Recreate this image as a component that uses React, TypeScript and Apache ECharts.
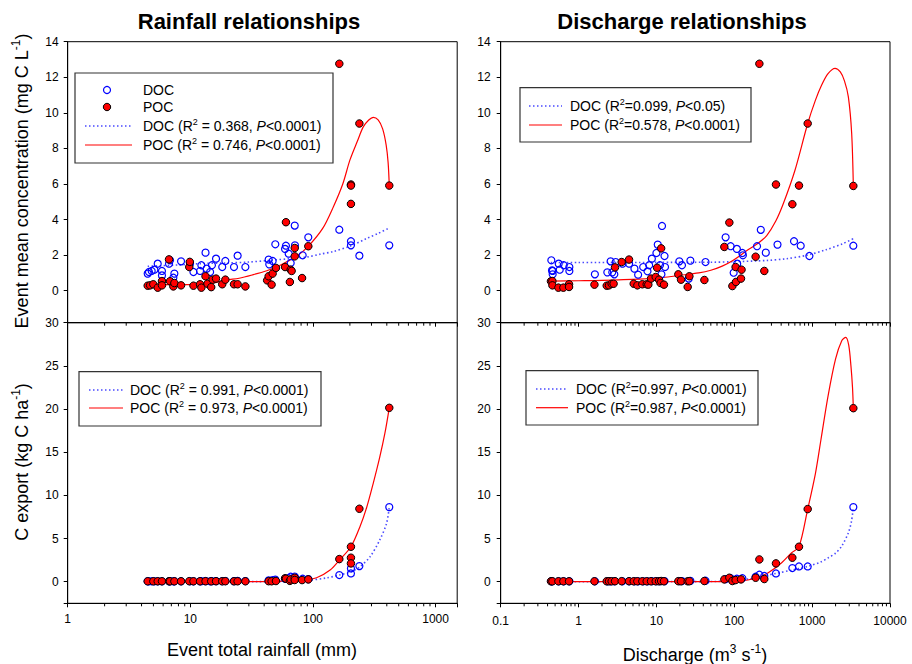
import React, { useEffect, useRef } from 'react';
import * as echarts from 'echarts';

const FONT = '"Liberation Sans", Arial, Helvetica, sans-serif';

// ---------- Data: top-left (rainfall vs concentration) ----------
const rainDocConc = [[4.49,0.96],[4.6,1.05],[4.84,1.11],[5.09,1.18],[5.42,1.52],[5.87,1.11],[5.87,0.86],[6.7,1.52],[6.83,1.71],[7.27,0.73],[7.41,0.96],[8.4,1.65],[9.94,1.52],[10.6,1.05],[12.0,1.11],[12.3,1.43],[13.3,2.14],[13.6,1.24],[14.5,1.05],[15.0,1.43],[16.2,1.8],[18.2,1.33],[19.3,1.67],[22.7,1.33],[24.3,1.97],[28.1,1.33],[43.5,1.75],[44.0,1.48],[46.9,1.67],[49.3,2.61],[59.2,2.35],[60.2,2.53],[63.4,2.08],[65.8,1.56],[71.0,3.66],[71.3,2.55],[82.4,1.99],[91.6,3.0],[164,3.43],[204,2.78],[204,2.55],[239,1.97],[419,2.55]];
const rainPocConc = [[4.49,0.28],[4.7,0.3],[4.99,0.36],[5.42,0.17],[5.87,0.54],[5.87,0.3],[6.7,1.76],[6.83,0.53],[7.27,0.24],[7.41,0.43],[8.4,0.3],[9.8,1.33],[9.9,1.62],[10.6,0.28],[12.0,0.36],[12.3,0.17],[13.3,0.81],[13.8,0.39],[14.8,0.2],[15.2,0.62],[16.2,0.68],[18.2,0.36],[19.3,0.62],[22.7,0.36],[24.3,0.36],[28.1,0.24],[42.3,0.58],[43.5,0.81],[46.0,0.34],[46.9,0.96],[49.9,1.28],[59.2,1.33],[60.2,3.85],[64.8,0.49],[65.8,1.18],[67,1.11],[71.0,1.93],[71.0,2.4],[81.5,0.71],[91.6,2.5],[164,12.76],[204,5.97],[204,5.91],[204,4.88],[239,9.4],[419,5.91]];
const rainDocConcFit = [[4.49,1.37],[8,1.45],[12,1.52],[20,1.56],[30,1.61],[45,1.71],[65,1.8],[90,1.9],[114,2.05],[146,2.2],[200,2.5],[273,2.93],[340,3.22],[419,3.53]];
const rainPocConcFit = [[4.49,0.35],[7,0.34],[10,0.34],[15,0.42],[19.8,0.6],[25,0.7],[32.6,0.9],[42,1.12],[50.5,1.33],[60,1.6],[73.5,1.93],[91.4,2.49],[120,3.5],[146.5,4.71],[175,6.0],[200,7.34],[230,8.4],[257,9.21],[285,9.6],[310,9.75],[340,9.6],[370,9.1],[395,8.2],[410,7.2],[419,5.91]];

// ---------- Data: top-right (discharge vs concentration) ----------
const dischDocConc = [[0.447,1.71],[0.456,1.14],[0.465,0.92],[0.465,1.11],[0.556,1.52],[0.573,1.18],[0.645,1.43],[0.762,1.33],[0.762,1.11],[1.62,0.92],[2.34,1.03],[2.58,1.65],[2.71,1.03],[2.88,0.92],[3.0,1.61],[3.66,1.52],[4.46,1.52],[5.22,1.24],[5.82,0.9],[6.76,1.33],[7.68,1.09],[8.07,1.43],[8.74,1.8],[10.0,2.12],[10.4,2.59],[11.1,1.43],[11.6,0.92],[11.8,3.64],[12.7,1.95],[12.9,1.33],[19.7,1.65],[21.3,1.43],[26.0,0.68],[27.3,1.69],[42.7,1.61],[77.4,3.0],[89.8,2.5],[98.2,1.01],[108,2.35],[109,1.52],[127,2.12],[129,1.99],[196,2.5],[219,3.42],[254,2.14],[359,2.59],[585,2.78],[713,2.53],[922,1.95],[3381,2.53]];
const dischPocConc = [[0.442,0.53],[0.461,0.54],[0.461,0.3],[0.551,0.17],[0.638,0.17],[0.755,0.36],[0.755,0.21],[1.6,0.34],[2.3,0.28],[2.46,0.3],[2.66,0.39],[2.82,0.39],[2.94,1.31],[3.58,1.61],[4.45,1.75],[5.11,0.39],[5.69,0.3],[6.59,0.36],[7.5,0.36],[7.87,0.34],[8.53,0.68],[9.79,0.77],[10.2,1.29],[10.8,0.62],[11.5,2.38],[11.3,0.43],[12.5,0.34],[19.1,0.92],[20.7,0.62],[25.2,0.21],[26.5,0.81],[41.3,0.6],[74.5,2.46],[86.4,3.83],[94.5,0.26],[104,1.33],[105,0.49],[122,0.68],[124,1.18],[188,1.91],[210,12.76],[243,1.11],[343,5.97],[557,4.86],[678,5.91],[877,9.4],[3381,5.89]];
const dischDocConcFit = [[0.44,1.58],[10,1.59],[50,1.6],[100,1.63],[261,1.7],[471,1.8],[851,1.99],[1500,2.3],[2500,2.65],[3381,2.93]];
const dischPocConcFit = [[0.44,0.54],[1,0.56],[2,0.58],[6,0.65],[12,0.74],[20,0.86],[35,1.0],[50,1.15],[70,1.38],[97,1.71],[150,2.3],[200,2.65],[261,3.1],[340,3.9],[427,4.9],[602,6.77],[877,9.4],[1100,10.7],[1325,11.56],[1600,12.2],[1968,12.5],[2300,12.3],[2600,11.8],[2918,10.9],[3220,8.84],[3381,5.89]];

// ---------- Data: bottom-left (rainfall vs export) ----------
const rainDocExp = [[4.49,0.05],[4.6,0.05],[4.84,0.05],[5.09,0.05],[5.42,0.05],[5.87,0.05],[6.7,0.05],[6.83,0.05],[7.27,0.05],[7.41,0.05],[8.4,0.05],[9.94,0.05],[10.6,0.05],[12.0,0.05],[12.3,0.06],[13.3,0.07],[14.5,0.05],[15.0,0.06],[16.2,0.07],[18.2,0.06],[19.3,0.08],[22.7,0.07],[24.3,0.1],[28.1,0.08],[43.5,0.15],[46.9,0.18],[49.3,0.25],[59.2,0.35],[63.4,0.4],[65.8,0.58],[71.0,0.6],[71.3,0.45],[82.4,0.35],[91.6,0.3],[164,0.77],[204,0.96],[204,1.54],[239,1.81],[419,8.64]];
const rainPocExp = [[4.49,0.05],[4.99,0.05],[5.42,0.05],[5.87,0.05],[6.7,0.06],[6.83,0.05],[7.41,0.05],[8.4,0.05],[9.8,0.06],[10.6,0.05],[12.0,0.05],[13.3,0.06],[14.8,0.05],[16.2,0.06],[18.2,0.05],[19.3,0.06],[22.7,0.05],[24.3,0.05],[28.1,0.05],[43.5,0.06],[46.0,0.05],[49.9,0.08],[59.2,0.39],[60.2,0.35],[64.8,0.1],[65.8,0.27],[71.0,0.46],[71.0,0.2],[81.5,0.19],[91.6,0.27],[164,2.62],[204,4.05],[204,2.78],[204,2.12],[239,8.45],[419,20.14]];
const rainDocExpFit = [[4.49,0],[50,0.02],[90,0.15],[130,0.45],[164,0.77],[204,1.16],[242,1.74],[292,2.89],[350,4.82],[398,6.75],[419,8.64]];
const rainPocExpFit = [[4.49,0],[20,0],[50,0.03],[82,0.15],[107,0.46],[138,1.35],[166,2.58],[204,4.05],[242,6.4],[274,8.6],[310,11.4],[350,14.4],[386,17.2],[419,20.14]];

// ---------- Data: bottom-right (discharge vs export) ----------
const dischDocExp = [[0.447,0.05],[0.456,0.05],[0.556,0.05],[0.645,0.05],[0.762,0.05],[1.62,0.05],[2.34,0.05],[2.58,0.05],[2.88,0.05],[3.66,0.05],[4.46,0.05],[5.22,0.05],[5.82,0.05],[6.76,0.05],[7.68,0.05],[8.74,0.06],[10.0,0.06],[11.1,0.07],[12.7,0.07],[19.7,0.08],[21.3,0.08],[27.3,0.1],[42.7,0.12],[77.4,0.3],[89.8,0.4],[98.2,0.2],[108,0.35],[127,0.4],[188,0.58],[210,0.81],[243,0.66],[343,0.96],[557,1.58],[678,1.77],[877,1.77],[3381,8.64]];
const dischPocExp = [[0.442,0.05],[0.461,0.05],[0.551,0.05],[0.638,0.05],[0.755,0.05],[1.6,0.05],[2.3,0.05],[2.46,0.05],[2.66,0.05],[2.94,0.06],[3.58,0.06],[4.45,0.06],[5.11,0.05],[5.69,0.05],[6.59,0.05],[7.5,0.05],[8.53,0.05],[9.79,0.05],[10.8,0.05],[11.5,0.08],[12.5,0.05],[19.1,0.06],[20.7,0.05],[25.2,0.05],[26.5,0.06],[41.3,0.08],[74.5,0.27],[86.4,0.46],[94.5,0.08],[104,0.19],[122,0.27],[188,0.46],[210,2.58],[243,0.31],[343,2.12],[557,2.78],[678,4.05],[877,8.41],[3381,20.1]];
const dischDocExpFit = [[0.44,0],[50,0.02],[150,0.3],[250,0.7],[343,0.96],[550,1.35],[877,1.77],[1300,2.3],[1616,2.78],[2000,3.3],[2400,4.13],[2918,5.67],[3200,7.0],[3381,8.64]];
const dischPocExpFit = [[0.44,0],[10,0],[100,0.05],[150,0.2],[200,0.5],[273,1.04],[406,2.2],[546,3.36],[678,4.05],[877,8.4],[1100,12.5],[1300,16.5],[1600,21.5],[2000,25.8],[2400,27.9],[2700,28.3],[2950,27.4],[3150,25.0],[3300,22.5],[3381,20.1]];

// ---------- Axes ----------
const rainRange = [1, 1500];
const dischRange = [0.1, 10000];
const concRange = [-1.8, 14];
const expRange = [-2.5, 30];
const rainDecades = [1, 10, 100];
const dischDecades = [0.1, 1, 10, 100, 1000];
const minorMultipliers = [2, 3, 4, 5, 6, 7, 8, 9];

const legendTexts = {
  tl: [['DOC (R', '2', ' = 0.368, ', 'P', '<0.0001)'], ['POC (R', '2', ' = 0.746, ', 'P', '<0.0001)']],
  tr: [['DOC (R', '2', '=0.099, ', 'P', '<0.05)'], ['POC (R', '2', '=0.578, ', 'P', '<0.0001)']],
  bl: [['DOC (R', '2', ' = 0.991, ', 'P', '<0.0001)'], ['POC (R', '2', ' = 0.973, ', 'P', '<0.0001)']],
  br: [['DOC (R', '2', '=0.997, ', 'P', '<0.0001)'], ['POC (R', '2', '=0.987, ', 'P', '<0.0001)']],
};

const DOC_BLUE = '#0000ff';
const DOC_LINE = '#4a4aff';
const POC_RED = '#ff0000';

function minorTicks(decades: number[], max: number) {
  const out: number[] = [];
  decades.forEach((d) => minorMultipliers.forEach((m) => { const v = d * m; if (v < max) out.push(v); }));
  return out;
}

function logLabel(v: number) {
  const l = Math.log10(v);
  const r = Math.round(l);
  if (Math.abs(l - r) > 1e-6) return '';
  return r < 0 ? (10 ** r).toFixed(-r) : String(10 ** r);
}

function xAxis(idx: number, range: number[], showLabels: boolean, margin: number) {
  return {
    type: 'log', logBase: 10, gridIndex: idx, min: range[0], max: range[1],
    axisLine: { show: true, onZero: false, lineStyle: { color: '#000', width: 1 } },
    axisTick: { show: true, inside: false, length: 4, lineStyle: { color: '#000' } },
    axisLabel: { show: showLabels, formatter: logLabel, fontSize: 12, color: '#000', fontFamily: FONT, margin },
    splitLine: { show: false }, minorTick: { show: false },
  };
}

function yAxis(idx: number, range: number[], margin: number) {
  return {
    type: 'value', gridIndex: idx, min: range[0], max: range[1], splitNumber: range[1] > 20 ? 7 : 8,
    axisLine: { show: true, onZero: false, lineStyle: { color: '#000', width: 1 } },
    axisTick: { show: true, inside: false, length: 4, lineStyle: { color: '#000' } },
    axisLabel: {
      formatter: (v: number) => (v < 0 ? '' : String(v)), fontSize: 12, color: '#000', fontFamily: FONT, margin,
    },
    splitLine: { show: false },
  };
}

function panelSeries(idx: number, docPts: number[][], pocPts: number[][], docFit: number[][], pocFit: number[][], minors: number[], yMin: number) {
  return [
    {
      type: 'line', xAxisIndex: idx, yAxisIndex: idx, data: docFit, symbol: 'none', smooth: 0.3,
      lineStyle: { color: DOC_LINE, width: 1.6, type: [1.5, 2.5] }, silent: true, z: 2,
    },
    {
      type: 'line', xAxisIndex: idx, yAxisIndex: idx, data: pocFit, symbol: 'none', smooth: 0.3,
      lineStyle: { color: POC_RED, width: 1.2 }, silent: true, z: 2,
    },
    {
      type: 'scatter', xAxisIndex: idx, yAxisIndex: idx, data: docPts, symbol: 'circle', symbolSize: 7,
      itemStyle: { color: 'rgba(255,255,255,0)', borderColor: DOC_BLUE, borderWidth: 1.2, opacity: 1 }, z: 3,
    },
    {
      type: 'scatter', xAxisIndex: idx, yAxisIndex: idx, data: pocPts, symbol: 'circle', symbolSize: 7.5,
      itemStyle: { color: POC_RED, borderColor: '#000', borderWidth: 1, opacity: 1 }, z: 4,
    },
    {
      type: 'custom', xAxisIndex: idx, yAxisIndex: idx, data: minors.map((v) => [v, yMin]), clip: false, silent: true, z: 5,
      renderItem: (_p: any, api: any) => {
        const pt = api.coord([api.value(0), api.value(1)]);
        return { type: 'line', shape: { x1: pt[0], y1: pt[1], x2: pt[0], y2: pt[1] + 3 }, style: { stroke: '#000', lineWidth: 1 } };
      },
    },
  ];
}

function richText(parts: string[]) {
  return `{t|${parts[0]}}{s|${parts[1]}}{t|${parts[2]}}{i|${parts[3]}}{t|${parts[4]}}`;
}

const legendRich = {
  t: { fontSize: 14, fontFamily: FONT, fill: '#000' },
  s: { fontSize: 9, fontFamily: FONT, fill: '#000', padding: [0, 0, 8, 0] },
  i: { fontSize: 14, fontFamily: FONT, fill: '#000', fontStyle: 'italic' },
};

function legendBox(x: number, y: number, w: number, h: number) {
  return { type: 'rect', shape: { x, y, width: w, height: h }, style: { fill: '#fff', stroke: '#333', lineWidth: 1.2 }, z: 100 };
}
function legendLine(x1: number, x2: number, y: number, doc: boolean) {
  return {
    type: 'line', shape: { x1, y1: y, x2, y2: y }, z: 101,
    style: doc ? { stroke: DOC_LINE, lineWidth: 1.6, lineDash: [1.5, 2.5] } : { stroke: POC_RED, lineWidth: 1.2 },
  };
}
function legendLabel(x: number, y: number, parts: string[]) {
  return { type: 'text', x, y, z: 101, style: { text: richText(parts), rich: legendRich, verticalAlign: 'middle', align: 'left', font: `14px ${FONT}` } };
}
function plainText(x: number, y: number, text: string, size: number) {
  return { type: 'text', x, y, z: 101, style: { text, fill: '#000', font: `${size}px ${FONT}`, verticalAlign: 'middle', align: 'left' } };
}

const nameRich = {
  a: { fontSize: 18, fontFamily: FONT, fill: '#000' },
  s: { fontSize: 12, fontFamily: FONT, fill: '#000', padding: [0, 0, 12, 0] },
};

function nameText(x: number, y: number, text: string, rotate: boolean) {
  return {
    type: 'text', x, y, rotation: rotate ? Math.PI / 2 : 0, z: 101,
    style: { text, rich: nameRich, align: 'center', verticalAlign: 'middle', font: `18px ${FONT}` },
  };
}

export default function App() {
  const ref = useRef<HTMLDivElement>(null);
  useEffect(() => {
    const chart = echarts.init(ref.current!, null, { renderer: 'svg' });
    const grids = [
      { left: 67.7, top: 41.7, width: 389.5, height: 281 },
      { left: 500.7, top: 41.7, width: 389.3, height: 281 },
      { left: 67.7, top: 322.7, width: 389.5, height: 280.6 },
      { left: 500.7, top: 322.7, width: 389.3, height: 280.6 },
    ].map((g) => ({ ...g, show: true, borderColor: '#000', borderWidth: 1, backgroundColor: 'transparent', containLabel: false }));

    const rainMinors = minorTicks(rainDecades, rainRange[1]);
    const dischMinors = minorTicks(dischDecades, dischRange[1]);

    const option: any = {
      animation: false,
      backgroundColor: '#fff',
      textStyle: { fontFamily: FONT },
      grid: grids,
      xAxis: [
        xAxis(0, rainRange, false, 10),
        xAxis(1, dischRange, false, 10),
        xAxis(2, rainRange, true, 10),
        xAxis(3, dischRange, true, 12),
      ],
      yAxis: [
        yAxis(0, concRange, 9),
        yAxis(1, concRange, 10),
        yAxis(2, expRange, 9),
        yAxis(3, expRange, 10),
      ],
      series: [
        ...panelSeries(0, rainDocConc, rainPocConc, rainDocConcFit, rainPocConcFit, rainMinors, concRange[0]),
        ...panelSeries(1, dischDocConc, dischPocConc, dischDocConcFit, dischPocConcFit, dischMinors, concRange[0]),
        ...panelSeries(2, rainDocExp, rainPocExp, rainDocExpFit, rainPocExpFit, rainMinors, expRange[0]),
        ...panelSeries(3, dischDocExp, dischPocExp, dischDocExpFit, dischPocExpFit, dischMinors, expRange[0]),
      ],
      graphic: [
        { type: 'text', x: 249, y: 21, z: 101, style: { text: 'Rainfall relationships', font: `bold 22px ${FONT}`, fill: '#000', align: 'center', verticalAlign: 'middle' } },
        { type: 'text', x: 682, y: 21, z: 101, style: { text: 'Discharge relationships', font: `bold 22px ${FONT}`, fill: '#000', align: 'center', verticalAlign: 'middle' } },
        nameText(22, 181, '{a|Event mean concentration (mg C L}{s|-1}{a|)}', true),
        nameText(22, 462, '{a|C export (kg C ha}{s|-1}{a|)}', true),
        nameText(262, 650, '{a|Event total rainfall (mm)}', false),
        nameText(695, 655, '{a|Discharge (m}{s|3}{a| s}{s|-1}{a|)}', false),
        // top-left legend
        legendBox(75, 73, 258, 90),
        { type: 'circle', shape: { cx: 107, cy: 90, r: 3.5 }, style: { fill: '#fff', stroke: DOC_BLUE, lineWidth: 1.2 }, z: 101 },
        plainText(143, 90, 'DOC', 14),
        { type: 'circle', shape: { cx: 107, cy: 107, r: 3.7 }, style: { fill: POC_RED, stroke: '#000', lineWidth: 1 }, z: 101 },
        plainText(143, 107, 'POC', 14),
        legendLine(85, 132, 126, true),
        legendLabel(143, 126, legendTexts.tl[0]),
        legendLine(85, 132, 145, false),
        legendLabel(143, 145, legendTexts.tl[1]),
        // top-right legend
        legendBox(520, 87.7, 231, 54.3),
        legendLine(529, 562, 106, true),
        legendLabel(570, 106, legendTexts.tr[0]),
        legendLine(529, 562, 125, false),
        legendLabel(570, 125, legendTexts.tr[1]),
        // bottom-left legend
        legendBox(79, 371.7, 242, 54.3),
        legendLine(89, 123, 390, true),
        legendLabel(130, 390, legendTexts.bl[0]),
        legendLine(89, 123, 408, false),
        legendLabel(130, 408, legendTexts.bl[1]),
        // bottom-right legend
        legendBox(526, 370.7, 232, 54.3),
        legendLine(536, 568, 389, true),
        legendLabel(576, 389, legendTexts.br[0]),
        legendLine(536, 568, 407.7, false),
        legendLabel(576, 407.7, legendTexts.br[1]),
      ],
    };
    chart.setOption(option);
    return () => chart.dispose();
  }, []);
  return <div ref={ref} style={{ position: 'fixed', left: 0, top: 0, width: 912, height: 664, background: '#fff' }} />;
}
